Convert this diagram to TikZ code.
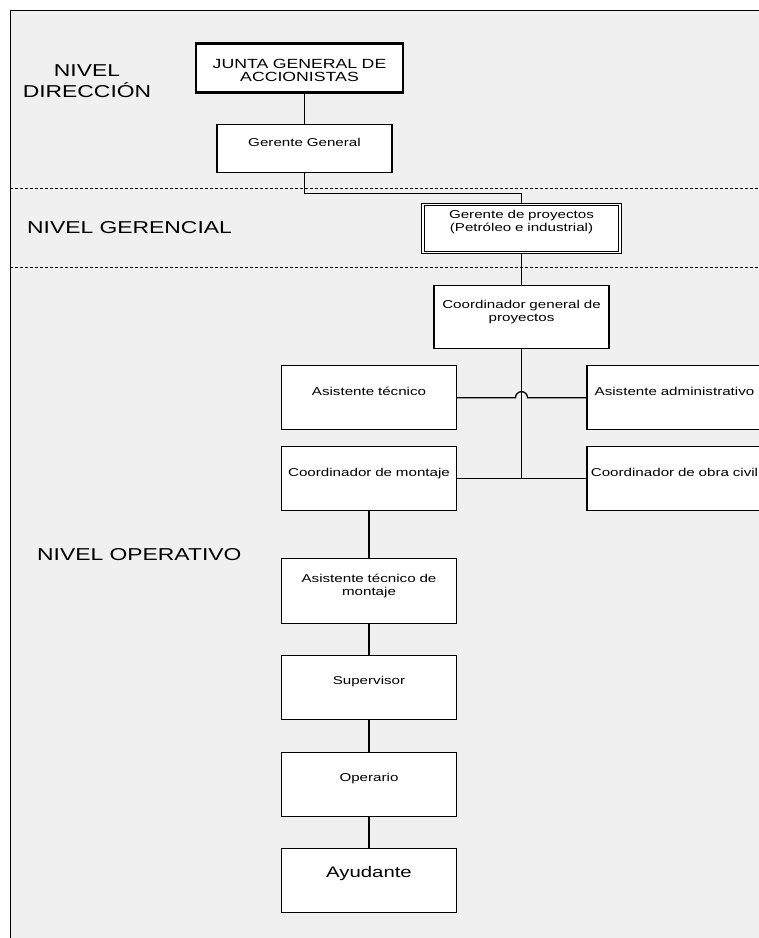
\documentclass[tikz,border=0pt]{standalone}
\usepackage{fontspec}
\newfontfamily\arial[FakeStretch=1.33]{Liberation Sans}
\definecolor{fondo}{HTML}{F0F0F0}
\tikzset{
  puesto/.style={draw, fill=white, line width=1.3pt, inner sep=0pt, text width=175pt, align=center, anchor=north, font=\arial\fontsize{11.4}{13}\selectfont},
  alto/.style 2 args={text height=#1, text depth=#2},
  nivel/.style={font=\arial\fontsize{17.2}{21}\selectfont, align=center, inner sep=0pt},
  enlace/.style={line width=1.3pt},
  limite/.style={line width=0.8pt, dash pattern=on 3pt off 2pt},
}
\begin{document}
\begin{tikzpicture}[x=1pt,y=-1pt]
\useasboundingbox (0,0) rectangle (759,938);
\clip (0,0) rectangle (759,938);
\fill[fondo] (10,10) rectangle (759,938);
\draw[line width=0.9pt] (10,938) -- (10,10) -- (759,10);
\draw[limite] (10,188) -- (759,188);
\draw[limite] (10,267) -- (759,267);

\node[nivel] at (87,81.5) {NIVEL\\DIRECCIÓN};
\node[nivel,anchor=west] at (27,228) {NIVEL GERENCIAL};
\node[nivel,anchor=west] at (37,555) {NIVEL OPERATIVO};

\node[puesto, text width=207pt, line width=2.6pt, font=\arial\fontsize{13.3}{13.5}\selectfont, alto={25pt}{24pt}] (junta) at (299.5,42) {JUNTA GENERAL DE\\ACCIONISTAS};
\node[puesto, alto={22pt}{26pt}] (gg) at (304.5,124) {Gerente General};
\node[puesto, text width=197pt, line width=1.1pt, double, double distance=1.5pt, alto={14pt}{34pt}] (gp) at (521.5,204) {Gerente de proyectos\\(Petróleo e industrial)};
\node[puesto, alto={23pt}{40pt}] (cg) at (521.5,285) {Coordinador general de\\proyectos};
\node[puesto, alto={30pt}{34pt}] (at) at (369,365) {Asistente técnico};
\node[puesto, alto={30pt}{34pt}] (aa) at (674.5,365) {Asistente administrativo};
\node[puesto, alto={30pt}{34pt}] (cm) at (369,446) {Coordinador de montaje};
\node[puesto, alto={30pt}{34pt}] (coc) at (674.5,446) {Coordinador de obra civil};
\node[puesto, alto={24pt}{41pt}] (atm) at (369,558) {Asistente técnico de\\montaje};
\node[puesto, alto={29pt}{35pt}] (sup) at (369,655) {Supervisor};
\node[puesto, alto={29pt}{35pt}] (op) at (369,752) {Operario};
\node[puesto, alto={29pt}{35pt}, font=\arial\fontsize{15.3}{18}\selectfont] (ay) at (369,848) {Ayudante};

\draw[enlace] (gg.north) -- (gg.north |- junta.south);
\draw[enlace] (gg.south) -- ++(0,20) -| (gp.north);
\draw[enlace] (gp.south) -- (cg.north);
\draw[enlace] (cg.south) -- (cg.south |- cm.east);
\draw[enlace] (cm.east) -- (coc.west);
\draw[enlace] (at.east) -- ([xshift=-6pt]cg.south |- at.east) arc[start angle=180, end angle=0, radius=6pt] -- (aa.west);
\draw[enlace] (cm.south) -- (atm.north);
\draw[enlace] (atm.south) -- (sup.north);
\draw[enlace] (sup.south) -- (op.north);
\draw[enlace] (op.south) -- (ay.north);
\end{tikzpicture}
\end{document}
